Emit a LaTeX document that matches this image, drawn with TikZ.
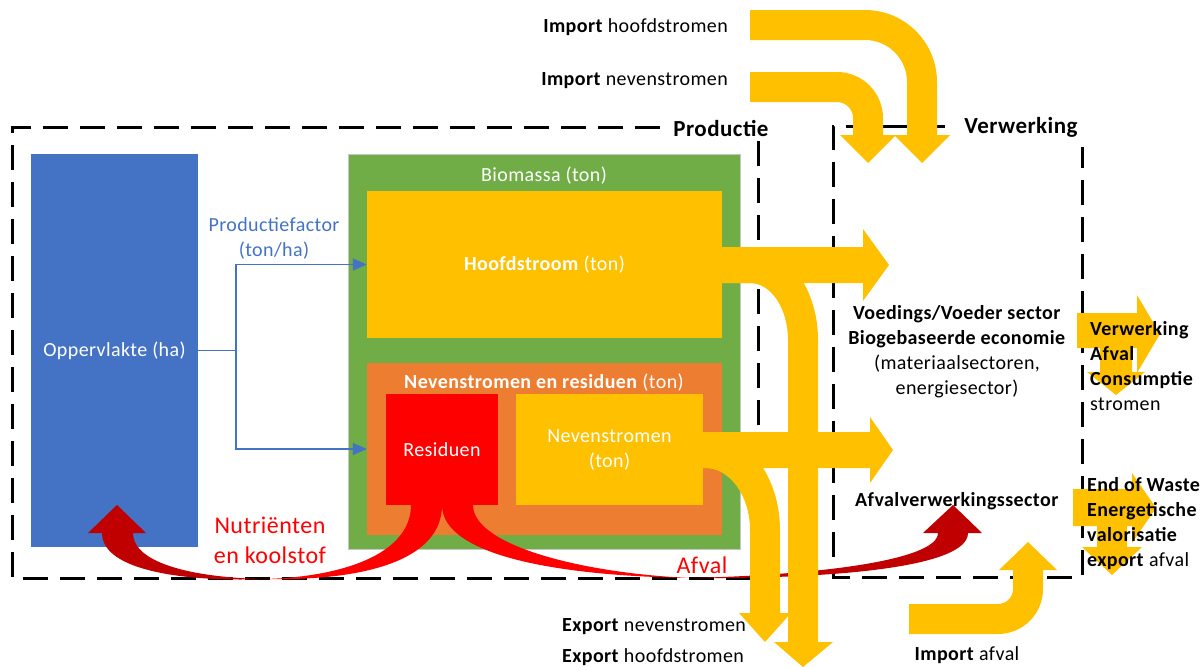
\documentclass[tikz,border=0pt]{standalone}
\usepackage{fontspec}
\setmainfont[LetterSpace=2]{Carlito}
\usetikzlibrary{arrows.meta}
\definecolor{cblue}{HTML}{4472C4}
\definecolor{cgreen}{HTML}{70AD47}
\definecolor{cyellow}{HTML}{FFC000}
\definecolor{corange}{HTML}{ED7D31}
\definecolor{cred}{HTML}{FF0000}
\definecolor{cdred}{HTML}{C00000}
\begin{document}
\begin{tikzpicture}[x=1pt,y=-1pt,
  every node/.style={inner sep=0pt, font=\fontsize{20}{25}\selectfont},
  box/.style={inner sep=0pt, text=white, align=center, draw=none},
  dashbox/.style={line width=3pt, dash pattern=on 25pt off 12pt},
  heading/.style={font=\fontsize{23}{27}\selectfont\bfseries},
  conn/.style={draw=cblue, line width=1.5pt},
  connarrow/.style={conn, -{Triangle[length=14pt,width=12pt]}},
  flow/.style={fill=cyellow, draw=none},
  txt/.style={text=black, align=center},
  redtxt/.style={text=cred, align=center, font=\fontsize{24}{30}\selectfont}]
\useasboundingbox (0,0) rectangle (1203,667);

% ---- dashed area boxes
\draw[dashbox] (660,127) -- (12,127) -- (12,578) -- (758,578) -- (758,140);
\draw[dashbox] (945,126) -- (833,126) -- (833,577) -- (1082,577) -- (1082,147);
\node[heading] (prodlabel) at (721,128) {Productie};
\node[heading] (verwlabel) at (1021,127) {Verwerking};

% ---- production boxes
\node[box, fill=cblue, minimum width=167pt, minimum height=393pt] (opp) at (114.5,350.5) {Oppervlakte (ha)};
\node[box, fill=cgreen, draw=gray!45, line width=0.8pt, minimum width=392pt, minimum height=395pt] (bio) at (544,351.5) {};
\node[box] (biolabel) at (544,176) {Biomassa (ton)};
\node[box, fill=cyellow, minimum width=355pt, minimum height=147pt] (hoofd) at (544.5,264.5) {\textbf{Hoofdstroom} (ton)};
\node[box, fill=corange, minimum width=355pt, minimum height=172pt] (nr) at (544.5,449) {};
\node[box] (nrlabel) at (544,383) {\textbf{Nevenstromen en residuen} (ton)};
\node[box, fill=cred, minimum width=112pt, minimum height=111pt] (res) at (442,449.5) {Residuen};
\node[box, fill=cyellow, minimum width=187pt, minimum height=111pt] (nev) at (609.5,449.5) {Nevenstromen\\(ton)};

% ---- production factor connectors
\coordinate (j) at (236,350.5);
\draw[conn] (opp.east) -- (j);
\draw[connarrow] (j) |- (hoofd.west);
\draw[connarrow] (j) |- (nr.west);
\node[text=cblue, align=center] (pf) at (274,238) {Productiefactor\\(ton/ha)};

% ---- red curved arrows
\fill[cred] (411,505) .. controls (411,555) and (340,577) .. (265,579)
  .. controls (360,581) and (442,562) .. (442,505) -- cycle;
\fill[cdred] (88,533) -- (117,505) -- (146,533) -- (133,533)
  .. controls (133,565) and (200,578) .. (265,579)
  .. controls (190,582) and (102,572) .. (102,533) -- cycle;
\fill[cred] (442,505) .. controls (442,556) and (560,576) .. (690,578)
  .. controls (580,573) and (473,545) .. (473,505) -- cycle;
\fill[cdred] (690,578) .. controls (820,575) and (938,560) .. (938,533)
  -- (923,533) -- (953,505) -- (982,533) -- (968,533)
  .. controls (968,568) and (830,579) .. (690,578) -- cycle;

% ---- yellow flows
\fill[flow] (722,247) -- (863,247) -- (863,229) -- (889,265) -- (863,301) -- (863,283) -- (722,283) -- cycle;
\fill[flow] (722,247) -- (750,247) .. controls (787.6,247) and (818,288.6) .. (818,340)
  -- (818,642) -- (833,642) -- (803,667) -- (774,642) -- (788,642) -- (788,340)
  .. controls (788,308.5) and (771,283) .. (750,283) -- (722,283) -- cycle;
\fill[flow] (703,432) -- (870,432) -- (870,417) -- (893,450) -- (870,483) -- (870,468) -- (703,468) -- cycle;
\fill[flow] (703,432) -- (705,432) .. controls (746.4,432) and (780,475.9) .. (780,530)
  -- (780,613) -- (791,613) -- (765,642) -- (739,613) -- (750,613) -- (750,530)
  .. controls (750,495.8) and (729.9,468) .. (705,468) -- (703,468) -- cycle;

% import arrows
\fill[flow] (750,10) -- (865,10) .. controls (904.8,10) and (937,42.2) .. (937,82)
  -- (937,135) -- (950,135) -- (922,163) -- (894,135) -- (907,135) -- (907,82)
  .. controls (907,58.8) and (888.2,40) .. (865,40) -- (750,40) -- cycle;
\fill[flow] (750,72) -- (837,72) .. controls (862.4,72) and (883,92.6) .. (883,118)
  -- (883,135) -- (896,135) -- (868,163) -- (840,135) -- (853,135) -- (853,118)
  .. controls (853,109.2) and (845.8,102) .. (837,102) -- (750,102) -- cycle;
\fill[flow] (909,604) -- (998,604) .. controls (1006.3,604) and (1013,597.3) .. (1013,589)
  -- (1013,570) -- (999,570) -- (1028,542) -- (1057,570) -- (1043,570) -- (1043,589)
  .. controls (1043,613.9) and (1022.9,634) .. (998,634) -- (909,634) -- cycle;

% small arrows at the right
\fill[flow] (1077,313) -- (1137,313) -- (1137,295) -- (1160,334) -- (1137,373) -- (1137,348) -- (1077,348) -- cycle;
\fill[flow] (1100,348) -- (1132,348) -- (1132,372) -- (1145,372) -- (1116,395) -- (1087,372) -- (1100,372) -- cycle;
\fill[flow] (1073,489) -- (1132,489) -- (1132,473) -- (1156,508) -- (1132,543) -- (1132,526) -- (1073,526) -- cycle;
\fill[flow] (1097,526) -- (1127,526) -- (1127,547) -- (1142,547) -- (1112,575) -- (1082,547) -- (1097,547) -- cycle;

% ---- texts
\node[redtxt] (nut) at (270,540) {Nutriënten\\en koolstof};
\node[redtxt] (afval) at (702,565) {Afval};

\node[anchor=east] (imph) at (728,27) {\textbf{Import} hoofdstromen};
\node[anchor=east] (impn) at (728,81) {\textbf{Import} nevenstromen};
\node[anchor=west] (expn) at (562,627) {\textbf{Export} nevenstromen};
\node[anchor=west] (exph) at (562,657) {\textbf{Export} hoofdstromen};
\node (impa) at (967,655) {\textbf{Import} afval};

\node[txt] (voed) at (957,352) {\textbf{Voedings/Voeder sector}\\\textbf{Biogebaseerde economie}\\(materiaalsectoren,\\energiesector)};
\node[txt] (afvs) at (957,501) {\textbf{Afvalverwerkingssector}};

\node[anchor=west, align=left] (verw) at (1090,366) {\textbf{Verwerking}\\\textbf{Afval}\\\textbf{Consumptie}\\stromen};
\node[anchor=west, align=left] (eow) at (1087,524) {\textbf{End of Waste}\\\textbf{Energetische}\\\textbf{valorisatie}\\\textbf{export} afval};
\end{tikzpicture}
\end{document}
